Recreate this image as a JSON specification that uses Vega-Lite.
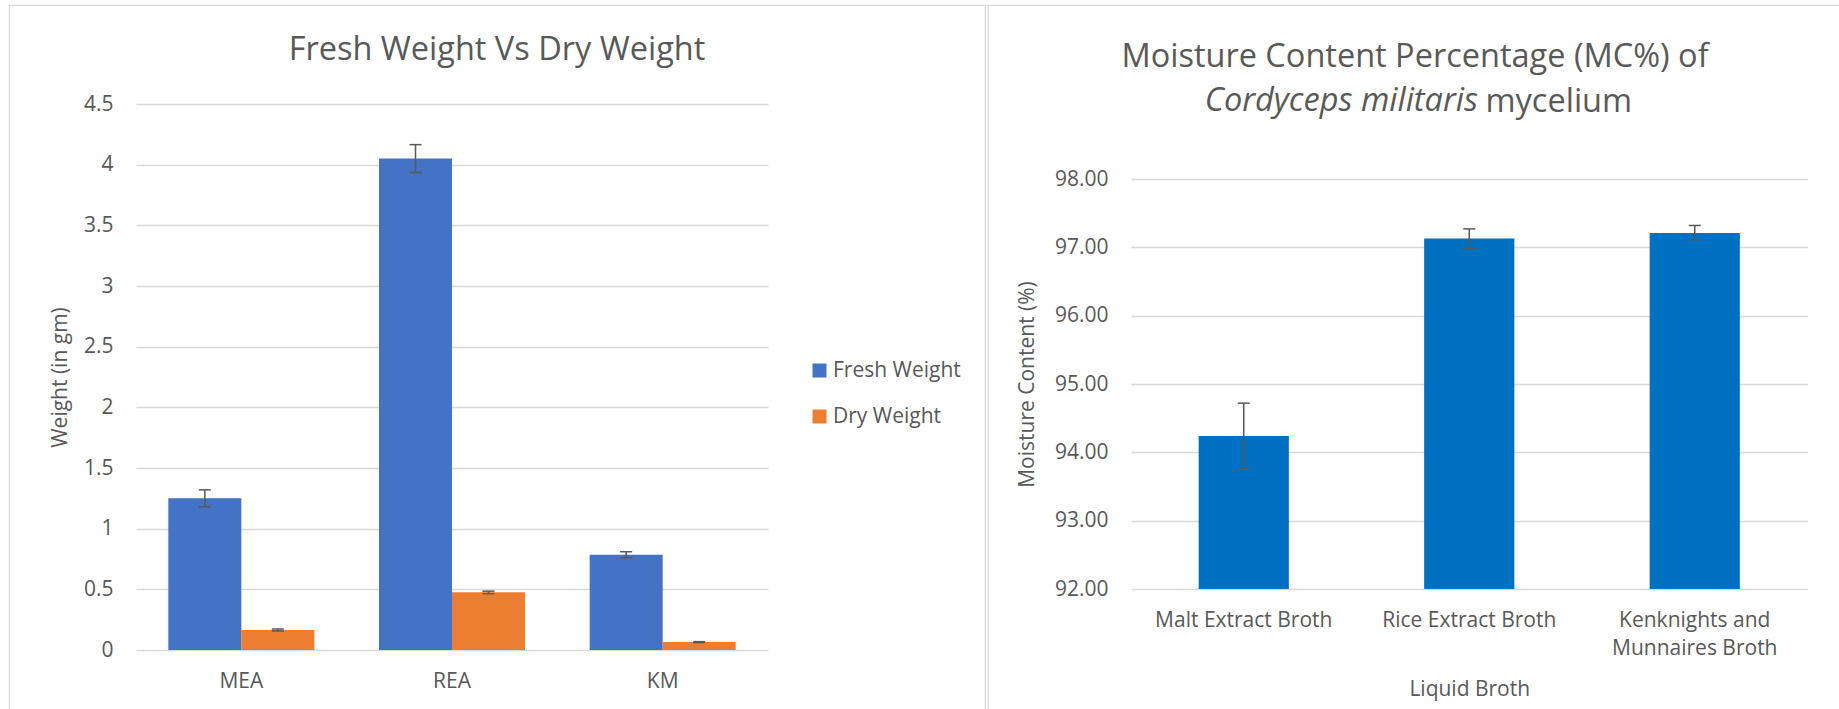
{
  "$schema": "https://vega.github.io/schema/vega-lite/v6.json",
  "background": "white",
  "padding": {"left": 8, "top": 4, "right": 0, "bottom": 0},
  "spacing": 1,
  "title": {
    "text": "Cordyceps militaris",
    "anchor": "start",
    "align": "right",
    "frame": "group",
    "dx": 1469,
    "offset": -112.8,
    "fontSize": 32.5,
    "fontStyle": "italic",
    "fontWeight": "normal",
    "color": "#595959"
  },
  "hconcat": [
    {
      "width": 976,
      "height": 705,
      "title": {
        "text": "Fresh Weight Vs Dry Weight",
        "anchor": "middle",
        "frame": "group",
        "offset": -61.8
      },
      "data": {
        "values": [
          {"medium": "MEA", "series": "Fresh Weight", "weight": 1.25, "lo": 1.18, "hi": 1.32},
          {"medium": "MEA", "series": "Dry Weight", "weight": 0.165, "lo": 0.157, "hi": 0.173},
          {"medium": "REA", "series": "Fresh Weight", "weight": 4.05, "lo": 3.935, "hi": 4.165},
          {"medium": "REA", "series": "Dry Weight", "weight": 0.475, "lo": 0.465, "hi": 0.485},
          {"medium": "KM", "series": "Fresh Weight", "weight": 0.785, "lo": 0.76, "hi": 0.81},
          {"medium": "KM", "series": "Dry Weight", "weight": 0.065, "lo": 0.061, "hi": 0.069}
        ]
      },
      "encoding": {
        "x": {
          "field": "medium",
          "type": "nominal",
          "sort": ["MEA", "REA", "KM"],
          "scale": {"range": [127, 759], "paddingInner": 0.307, "paddingOuter": 0.1535},
          "axis": {
            "title": null,
            "offset": -61,
            "domain": false,
            "ticks": false,
            "labelAngle": 0,
            "labelPadding": 21,
            "labelFontSize": 21,
            "labelColor": "#595959",
            "grid": false
          }
        },
        "xOffset": {
          "field": "series",
          "type": "nominal",
          "sort": ["Fresh Weight", "Dry Weight"],
          "scale": {"paddingInner": 0, "paddingOuter": 0}
        }
      },
      "layer": [
        {
          "mark": {"type": "bar"},
          "encoding": {
            "y": {
              "field": "weight",
              "type": "quantitative",
              "scale": {"domain": [0, 4.5], "range": [645, 99], "nice": false, "zero": true},
              "axis": {
                "title": "Weight (in gm)",
                "offset": -127,
                "values": [0, 0.5, 1, 1.5, 2, 2.5, 3, 3.5, 4, 4.5],
                "format": "~g",
                "domain": false,
                "ticks": false,
                "labelPadding": 23,
                "labelFontSize": 21,
                "labelColor": "#595959",
                "titleFontSize": 21,
                "titleFontWeight": "normal",
                "titleColor": "#595959",
                "titlePadding": 13,
                "grid": true,
                "gridColor": "#d9d9d9",
                "gridWidth": 1.5
              }
            },
            "color": {
              "field": "series",
              "type": "nominal",
              "sort": ["Fresh Weight", "Dry Weight"],
              "scale": {"domain": ["Fresh Weight", "Dry Weight"], "range": ["#4472C4", "#ED7D31"]},
              "legend": {
                "title": null,
                "orient": "none",
                "legendX": 800,
                "legendY": 355,
                "symbolType": "square",
                "symbolSize": 196,
                "symbolStrokeWidth": 0,
                "symbolOpacity": 1,
                "labelFontSize": 21,
                "labelColor": "#595959",
                "labelOffset": 3,
                "rowPadding": 24,
                "padding": 0
              }
            }
          }
        },
        {
          "mark": {"type": "rule", "color": "#595959", "strokeWidth": 1.5},
          "encoding": {
            "y": {"field": "lo", "type": "quantitative"},
            "y2": {"field": "hi"}
          }
        },
        {
          "mark": {"type": "tick", "color": "#595959", "size": 12, "thickness": 1.5, "opacity": 1},
          "encoding": {"y": {"field": "lo", "type": "quantitative"}}
        },
        {
          "mark": {"type": "tick", "color": "#595959", "size": 12, "thickness": 1.5, "opacity": 1},
          "encoding": {"y": {"field": "hi", "type": "quantitative"}}
        }
      ]
    },
    {
      "width": 854,
      "height": 705,
      "title": {
        "text": "Moisture Content Percentage (MC%) of",
        "anchor": "middle",
        "frame": "group",
        "offset": -68.3
      },
      "data": {
        "values": [
          {"broth": "Malt Extract Broth", "mc": 94.24, "lo": 93.77, "hi": 94.72},
          {"broth": "Rice Extract Broth", "mc": 97.13, "lo": 96.98, "hi": 97.27},
          {"broth": "Kenknights and Munnaires Broth", "mc": 97.21, "lo": 97.11, "hi": 97.32}
        ]
      },
      "resolve": {"axis": {"x": "independent"}},
      "layer": [
        {
          "mark": {"type": "bar", "color": "#0070C0"},
          "encoding": {
            "x": {
              "field": "broth",
              "type": "nominal",
              "sort": ["Malt Extract Broth", "Rice Extract Broth", "Kenknights and Munnaires Broth"],
              "scale": {"range": [143, 819.5], "paddingInner": 0.6, "paddingOuter": 0.3},
              "axis": {
                "title": "Liquid Broth",
                "orient": "bottom",
                "offset": -121,
                "domain": false,
                "ticks": false,
                "labelAngle": 0,
                "labelPadding": 20,
                "labelFontSize": 21,
                "labelColor": "#595959",
                "labelLineHeight": 28,
                "labelExpr": "datum.label == 'Kenknights and Munnaires Broth' ? ['Kenknights and', 'Munnaires Broth'] : datum.label",
                "titleFontSize": 21,
                "titleFontWeight": "normal",
                "titleColor": "#595959",
                "titlePadding": 20,
                "grid": false
              }
            },
            "y": {
              "field": "mc",
              "type": "quantitative",
              "scale": {"domain": [92, 98], "range": [584, 174], "nice": false, "zero": false},
              "axis": {
                "title": "Moisture Content (%)",
                "offset": -143,
                "values": [92, 93, 94, 95, 96, 97, 98],
                "format": ".2f",
                "domain": false,
                "ticks": false,
                "labelPadding": 23,
                "labelFontSize": 21,
                "labelColor": "#595959",
                "titleFontSize": 21,
                "titleFontWeight": "normal",
                "titleColor": "#595959",
                "titlePadding": 17,
                "grid": true,
                "gridColor": "#d9d9d9",
                "gridWidth": 1.5
              }
            },
            "y2": {"datum": 92}
          }
        },
        {
          "mark": {"type": "rule", "color": "#595959", "strokeWidth": 1.5},
          "encoding": {
            "x": {
              "field": "broth",
              "type": "nominal",
              "sort": ["Malt Extract Broth", "Rice Extract Broth", "Kenknights and Munnaires Broth"],
              "scale": {"range": [143, 819.5], "paddingInner": 0.6, "paddingOuter": 0.3},
              "axis": {
                "orient": "top",
                "title": "mycelium",
                "titleFontSize": 32.5,
                "titleFontWeight": "normal",
                "titleColor": "#595959",
                "titleFont": "Open Sans",
                "titleAlign": "left",
                "titleBaseline": "alphabetic",
                "titleAngle": 0,
                "titleX": 497,
                "titleY": 106,
                "domain": false,
                "ticks": false,
                "labels": false,
                "grid": false
              }
            },
            "y": {"field": "lo", "type": "quantitative"},
            "y2": {"field": "hi"}
          }
        },
        {
          "mark": {"type": "tick", "color": "#595959", "size": 12, "thickness": 1.5, "opacity": 1},
          "encoding": {
            "x": {
              "field": "broth",
              "type": "nominal",
              "sort": ["Malt Extract Broth", "Rice Extract Broth", "Kenknights and Munnaires Broth"],
              "axis": null
            },
            "y": {"field": "lo", "type": "quantitative"}
          }
        },
        {
          "mark": {"type": "tick", "color": "#595959", "size": 12, "thickness": 1.5, "opacity": 1},
          "encoding": {
            "x": {
              "field": "broth",
              "type": "nominal",
              "sort": ["Malt Extract Broth", "Rice Extract Broth", "Kenknights and Munnaires Broth"],
              "axis": null
            },
            "y": {"field": "hi", "type": "quantitative"}
          }
        }
      ]
    }
  ],
  "config": {
    "font": "Open Sans",
    "view": {"stroke": "#d9d9d9", "strokeWidth": 1.2},
    "title": {"fontSize": 32.5, "fontWeight": "normal", "color": "#595959", "font": "Open Sans"},
    "axis": {"labelFont": "Open Sans", "titleFont": "Open Sans"},
    "legend": {"labelFont": "Open Sans"}
  }
}
